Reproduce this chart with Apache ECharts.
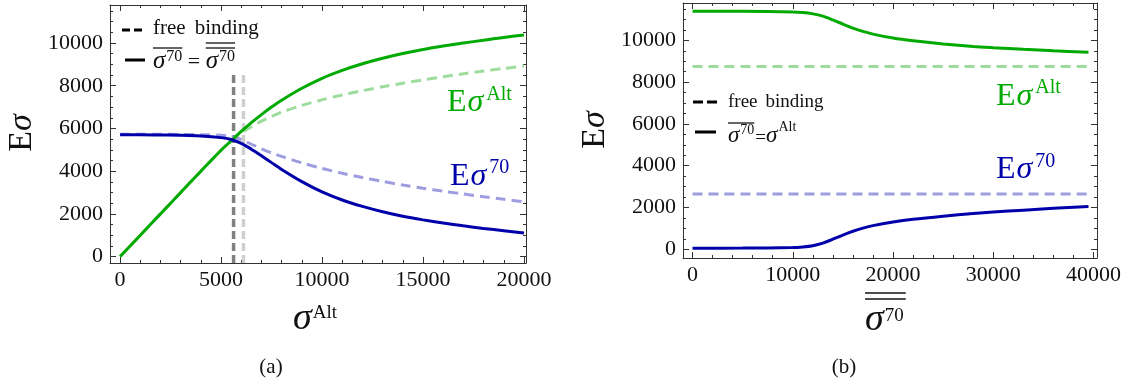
<!DOCTYPE html>
<html>
<head>
<meta charset="utf-8">
<script src="https://cdn.jsdelivr.net/npm/echarts@6/dist/echarts.min.js"></script>
<style>
  html, body { margin: 0; padding: 0; background: #ffffff; }
  #chart { width: 1143px; height: 390px; }
</style>
</head>
<body>
<div id="chart"></div>
<script>
// ---------- panel (a): expectation values against sigma^Alt ----------
const sigAltA    = [0, 1000, 2000, 3000, 4000, 5000, 5500, 6000, 6500, 7000, 7500, 8000, 9000, 10000, 11000, 12000, 13000, 14000, 15000, 16000, 17000, 18000, 19000, 20000];
const eAltBoundA = [0, 1000, 2000, 3000, 4000, 4980, 5420, 5860, 6270, 6650, 7000, 7320, 7880, 8350, 8720, 9030, 9290, 9510, 9700, 9860, 10000, 10130, 10260, 10380];
const e70BoundA  = [5700, 5700, 5690, 5680, 5650, 5570, 5480, 5300, 5030, 4720, 4400, 4080, 3510, 3030, 2650, 2350, 2100, 1890, 1720, 1570, 1440, 1320, 1210, 1100];
const eAltFreeA  = [0, 1000, 2000, 3000, 4000, 4980, 5420, 5780, 6080, 6340, 6560, 6760, 7080, 7340, 7570, 7770, 7950, 8120, 8270, 8420, 8560, 8690, 8810, 8920];
const e70FreeA   = [5730, 5730, 5730, 5720, 5710, 5680, 5630, 5480, 5260, 5050, 4860, 4690, 4390, 4130, 3900, 3700, 3520, 3350, 3200, 3060, 2930, 2800, 2680, 2560];
const markerXA   = [5620, 6110];   // free-binding / equal-sigma markers
const markerTopA = 8600;

// ---------- panel (b): expectation values against double-bar sigma^70 ----------
const sig70B     = [0, 5000, 10000, 11000, 12000, 13000, 14000, 15000, 16000, 17000, 18000, 20000, 22000, 25000, 28000, 30000, 33000, 36000, 39500];
const eAltBoundB = [11400, 11390, 11360, 11330, 11270, 11160, 10980, 10780, 10590, 10430, 10300, 10110, 9980, 9830, 9710, 9650, 9570, 9500, 9430];
const e70BoundB  = [50, 55, 80, 110, 170, 290, 480, 680, 860, 1010, 1130, 1300, 1430, 1580, 1710, 1780, 1870, 1960, 2050];
const freeSpanB  = [0, 39500];
const eAltFreeB  = 8750;
const e70FreeB   = 2650;

// ---------- ticks ----------
const majorXA = [0, 5000, 10000, 15000, 20000];
const minorXA = [1000, 2000, 3000, 4000, 6000, 7000, 8000, 9000, 11000, 12000, 13000, 14000, 16000, 17000, 18000, 19000];
const majorXB = [0, 10000, 20000, 30000, 40000];
const minorXB = [2000, 4000, 6000, 8000, 12000, 14000, 16000, 18000, 22000, 24000, 26000, 28000, 32000, 34000, 36000, 38000];
const majorY  = [0, 2000, 4000, 6000, 8000, 10000];
const minorY  = [500, 1000, 1500, 2500, 3000, 3500, 4500, 5000, 5500, 6500, 7000, 7500, 8500, 9000, 9500, 10500, 11000, 11500];

// axis ranges
const rangeXA = [-500, 20100], rangeYA = [-300, 11780];
const rangeXB = [-950, 40350], rangeYB = [-420, 11790];

// colours
const GREEN = '#00aa00', BLUE = '#0000aa';
const GREEN_LT = '#9ddc9d', BLUE_LT = '#9d9de0';
const GRAY_DK = '#808080', GRAY_LT = '#cfcfcf';
const FRAME = '#333333', INK = '#111111';
const SERIF = '"Liberation Serif", "Times New Roman", serif';

const pairs = (xs, ys) => xs.map((x, i) => [x, ys[i]]);

// frame: bottom/left carry labels, every side carries major and minor inward ticks
function frameAxes(dim, grid, range, major, minor) {
  const sides = dim === 'x' ? ['bottom', 'top'] : ['left', 'right'];
  const base = { gridIndex: grid, type: 'value', min: range[0], max: range[1],
    splitLine: { show: false }, axisLabel: { show: false }, axisLine: { show: false, onZero: false } };
  const out = [];
  sides.forEach((pos, k) => {
    out.push(Object.assign({}, base, {
      position: pos,
      axisLine: { show: true, onZero: false, lineStyle: { color: FRAME, width: 1 } },
      axisTick: { show: true, inside: true, length: 6, customValues: major, lineStyle: { color: FRAME, width: 1 } },
      axisLabel: k === 0 ? {
        show: true, customValues: major, margin: dim === 'x' ? 6 : 7,
        color: INK, fontFamily: SERIF, fontSize: 22, formatter: v => String(v)
      } : { show: false }
    }));
    out.push(Object.assign({}, base, {
      position: pos,
      axisTick: { show: true, inside: true, length: 3, customValues: minor, lineStyle: { color: FRAME, width: 1 } }
    }));
  });
  return out;
}

function curve(grid, data, color, dashed) {
  return {
    type: 'line', xAxisIndex: grid * 4, yAxisIndex: grid * 4, data,
    showSymbol: false, smooth: 0.3, silent: true,
    lineStyle: { color, width: 3, type: dashed ? [10, 6] : 'solid', cap: 'butt' },
    itemStyle: { color }, z: dashed ? 3 : 4
  };
}
function marker(x, color) {
  return {
    type: 'line', xAxisIndex: 0, yAxisIndex: 0, data: [[x, rangeYA[0]], [x, markerTopA]],
    showSymbol: false, silent: true, z: 2,
    lineStyle: { color, width: 3.5, type: [8, 4], cap: 'butt' }
  };
}

// ---------- typeset text pieces (main text, italics, raised superscripts) ----------
const mctx = document.createElement('canvas').getContext('2d');
const fontOf = p => (p.it ? 'italic ' : '') + p.f + 'px ' + SERIF;
function formula(x, base, pieces, color, center) {
  const widths = pieces.map(p => { mctx.font = fontOf(p); return mctx.measureText(p.t).width; });
  const total = widths.reduce((a, w, i) => a + w + (pieces[i].gap || 0), 0);
  let cx = center ? x - total / 2 : x;
  const els = [], spans = [];
  pieces.forEach((p, i) => {
    cx += p.gap || 0;
    els.push({
      type: 'text', x: cx, y: base - (p.rise || 0) - 0.3375 * p.f, silent: true, z: 100,
      style: { text: p.t, font: fontOf(p), fill: color, align: 'left', verticalAlign: 'middle' }
    });
    spans.push([cx, cx + widths[i]]);
    cx += widths[i];
  });
  return { els, spans };
}
const hline = (x1, x2, y, color, w, dash) => ({
  type: 'line', silent: true, z: 100,
  shape: { x1, y1: y, x2, y2: y },
  style: { stroke: color, lineWidth: w, lineDash: dash || null }
});

const G = [];
function add(f) { G.push(...f.els); return f; }

// y-axis titles, rotated
function yTitle(x, y) {
  const f = formula(0, 0.33 * 34, [{ t: 'E', f: 34 }, { t: 'σ', f: 34, it: 1 }], INK, true);
  G.push({ type: 'group', x, y, rotation: Math.PI / 2, children: f.els });
}
yTitle(22, 133);
yTitle(595, 130);

// x-axis titles
add(formula(293, 332, [{ t: 'σ', f: 38, it: 1 }, { t: 'Alt', f: 19, rise: 13, gap: 1 }], INK));
const tB = add(formula(865, 333, [{ t: 'σ', f: 38, it: 1 }, { t: '70', f: 19, rise: 11, gap: 1 }], INK));
G.push(hline(tB.spans[0][0], tB.spans[1][1] + 2, 293, INK, 1.4));
G.push(hline(tB.spans[0][0], tB.spans[1][1] + 2, 299, INK, 1.4));

// panel captions
add(formula(271, 375, [{ t: '(a)', f: 21 }], INK, true));
add(formula(844, 375, [{ t: '(b)', f: 21 }], INK, true));

// curve labels
add(formula(447, 113, [{ t: 'E', f: 32 }, { t: 'σ', f: 32, it: 1, gap: 1 }, { t: 'Alt', f: 20, rise: 12, gap: 3 }], GREEN));
add(formula(450, 187, [{ t: 'E', f: 32 }, { t: 'σ', f: 32, it: 1, gap: 1 }, { t: '70', f: 20, rise: 13, gap: 3 }], BLUE));
add(formula(996, 107, [{ t: 'E', f: 32 }, { t: 'σ', f: 32, it: 1, gap: 1 }, { t: 'Alt', f: 20, rise: 13, gap: 3 }], GREEN));
add(formula(996, 180, [{ t: 'E', f: 32 }, { t: 'σ', f: 32, it: 1, gap: 1 }, { t: '70', f: 20, rise: 12, gap: 3 }], BLUE));

// legend, panel (a)
G.push(hline(122, 142, 30, '#000', 3, [8, 4]));
add(formula(153, 36, [{ t: 'free', f: 21 }, { t: 'binding', f: 21, gap: 9 }], INK));
G.push(hline(125, 145, 60, '#000', 3));
const lA = add(formula(153, 70, [
  { t: 'σ', f: 25, it: 1 }, { t: '70', f: 16, rise: 8, gap: 1 },
  { t: ' = ', f: 22 },
  { t: 'σ', f: 25, it: 1 }, { t: '70', f: 16, rise: 8, gap: 1 }
], INK));
G.push(hline(lA.spans[0][0], lA.spans[1][1], 48, INK, 1.3));
G.push(hline(lA.spans[3][0], lA.spans[4][1], 43, INK, 1.3));
G.push(hline(lA.spans[3][0], lA.spans[4][1], 48, INK, 1.3));

// legend, panel (b)
G.push(hline(693, 717, 102, '#000', 3, [10, 4]));
add(formula(728, 108, [{ t: 'free', f: 19 }, { t: 'binding', f: 19, gap: 8 }], INK));
G.push(hline(695, 716, 132, '#000', 3));
const lB = add(formula(728, 144, [
  { t: 'σ', f: 23, it: 1 }, { t: '70', f: 14, rise: 9, gap: 1 },
  { t: '=', f: 19, gap: 1 },
  { t: 'σ', f: 23, it: 1 }, { t: 'Alt', f: 14, rise: 12, gap: 1 }
], INK));
G.push(hline(lB.spans[0][0], lB.spans[1][1], 123, INK, 1.3));

const chart = echarts.init(document.getElementById('chart'), null, { renderer: 'canvas' });
chart.setOption({
  animation: false,
  backgroundColor: '#ffffff',
  grid: [
    { left: 110, top: 5, width: 416, height: 258 },
    { left: 683, top: 3, width: 414, height: 255 }
  ],
  xAxis: [
    ...frameAxes('x', 0, rangeXA, majorXA, minorXA),
    ...frameAxes('x', 1, rangeXB, majorXB, minorXB)
  ],
  yAxis: [
    ...frameAxes('y', 0, rangeYA, majorY, minorY),
    ...frameAxes('y', 1, rangeYB, majorY, minorY)
  ],
  series: [
    marker(markerXA[0], GRAY_DK),
    marker(markerXA[1], GRAY_LT),
    curve(0, pairs(sigAltA, eAltFreeA), GREEN_LT, true),
    curve(0, pairs(sigAltA, e70FreeA), BLUE_LT, true),
    curve(0, pairs(sigAltA, eAltBoundA), GREEN, false),
    curve(0, pairs(sigAltA, e70BoundA), BLUE, false),
    curve(1, freeSpanB.map(x => [x, eAltFreeB]), GREEN_LT, true),
    curve(1, freeSpanB.map(x => [x, e70FreeB]), BLUE_LT, true),
    curve(1, pairs(sig70B, eAltBoundB), GREEN, false),
    curve(1, pairs(sig70B, e70BoundB), BLUE, false)
  ],
  graphic: { elements: G }
});
</script>
</body>
</html>
